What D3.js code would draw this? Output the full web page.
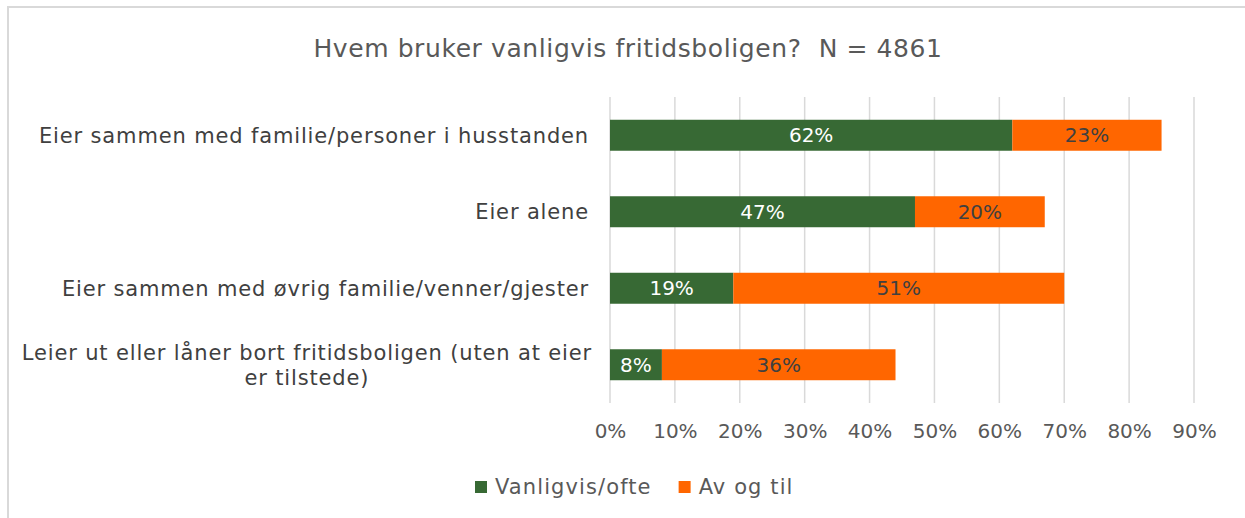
<!DOCTYPE html>
<html>
<head>
<meta charset="utf-8">
<script src="https://cdn.jsdelivr.net/npm/d3@7"></script>
<style>
  html, body { margin: 0; padding: 0; background: #fff; }
  svg { display: block; font-family: "DejaVu Sans", sans-serif; }
  text { white-space: pre; }
</style>
</head>
<body>
<svg id="chart" width="1245" height="518"></svg>
<script>
// data
const categories = [
  "Eier sammen med familie/personer i husstanden",
  "Eier alene",
  "Eier sammen med øvrig familie/venner/gjester",
  "Leier ut eller låner bort fritidsboligen (uten at eier|er tilstede)"
]
const vanligvis = [62, 47, 19, 8]
const avOgTil = [23, 20, 51, 36]
const seriesNames = ["Vanligvis/ofte", "Av og til"]
const xTicks = [0, 10, 20, 30, 40, 50, 60, 70, 80, 90]
const title = "Hvem bruker vanligvis fritidsboligen?  N = 4861"

const colors = ["#376934", "#ff6600"]
const labelColors = ["#ffffff", "#404040"]

const svg = d3.select("#chart")

// chart border (only top + left visible in the crop)
svg.append("rect")
  .attr("x", 8).attr("y", 7)
  .attr("width", 1260).attr("height", 530)
  .attr("fill", "none")
  .attr("stroke", "#d9d9d9")
  .attr("stroke-width", 2)

svg.append("text")
  .attr("x", 628).attr("y", 57)
  .attr("text-anchor", "middle")
  .attr("fill", "#595959")
  .style("font-size", "25px")
  .style("letter-spacing", "0.6px")
  .text(title)

const x = d3.scaleLinear().domain([0, 90]).range([610, 1194])
const y = d3.scaleBand().domain(d3.range(categories.length)).range([97, 403]).paddingInner(0.595).paddingOuter(0.2975)

// gridlines
svg.append("g")
  .selectAll("line")
  .data(xTicks)
  .join("line")
  .attr("x1", d => x(d)).attr("x2", d => x(d))
  .attr("y1", 97).attr("y2", 403)
  .attr("stroke", "#d9d9d9")
  .attr("stroke-width", 1.5)

// x axis labels
const xAxis = d3.axisBottom(x).tickValues(xTicks).tickFormat(d => d + "%").tickSize(0).tickPadding(0)
const axisG = svg.append("g").attr("transform", "translate(0,424)").call(xAxis)
axisG.select(".domain").remove()
axisG.selectAll("text")
  .attr("fill", "#595959")
  .attr("dy", "0.71em")
  .style("font-size", "20px")
  .style("font-family", "DejaVu Sans, sans-serif")

// stacked bars
const stacked = categories.map((c, i) => {
  return [
    { i, s: 0, x0: 0, x1: vanligvis[i], v: vanligvis[i] },
    { i, s: 1, x0: vanligvis[i], x1: vanligvis[i] + avOgTil[i], v: avOgTil[i] }
  ]
}).flat()

const bars = svg.append("g")
bars.selectAll("rect")
  .data(stacked)
  .join("rect")
  .attr("x", d => x(d.x0))
  .attr("y", d => y(d.i))
  .attr("width", d => x(d.x1) - x(d.x0))
  .attr("height", y.bandwidth())
  .attr("fill", d => colors[d.s])

bars.selectAll("text")
  .data(stacked)
  .join("text")
  .attr("x", d => (x(d.x0) + x(d.x1)) / 2)
  .attr("y", d => y(d.i) + y.bandwidth() / 2)
  .attr("dy", "0.36em")
  .attr("text-anchor", "middle")
  .attr("fill", d => labelColors[d.s])
  .style("font-size", "20px")
  .text(d => d.v + "%")

// category labels, right aligned; wrapped ones are centred like Excel does
const catG = svg.append("g")
categories.forEach((c, i) => {
  const lines = c.split("|")
  const cy = y(i) + y.bandwidth() / 2
  const t = catG.append("text")
    .attr("fill", "#404040")
    .style("font-size", "21px")
    .style("letter-spacing", "0.85px")
  if (lines.length === 1) {
    t.attr("x", 589).attr("y", cy).attr("dy", "0.36em").attr("text-anchor", "end").text(c)
  } else {
    const lh = 25
    lines.forEach((l, k) => {
      t.append("tspan").attr("x", 0).attr("y", cy + (k - (lines.length - 1) / 2) * lh).attr("dy", "0.36em").text(l)
    })
    let w = 0
    t.selectAll("tspan").each(function () { w = Math.max(w, this.getComputedTextLength()) })
    t.attr("text-anchor", "middle")
    t.selectAll("tspan").attr("x", 592 - w / 2)
  }
})

// legend
const legend = svg.append("g").attr("transform", "translate(0,494)")
let lx = 475
seriesNames.forEach((n, i) => {
  legend.append("rect").attr("x", lx).attr("y", -13).attr("width", 12).attr("height", 12).attr("fill", colors[i])
  const t = legend.append("text")
    .attr("x", lx + 20).attr("y", 0)
    .attr("fill", "#595959")
    .style("font-size", "21px")
    .style("letter-spacing", "1.1px")
    .text(n)
  lx += 20 + t.node().getComputedTextLength() + 27
})
</script>
</body>
</html>
